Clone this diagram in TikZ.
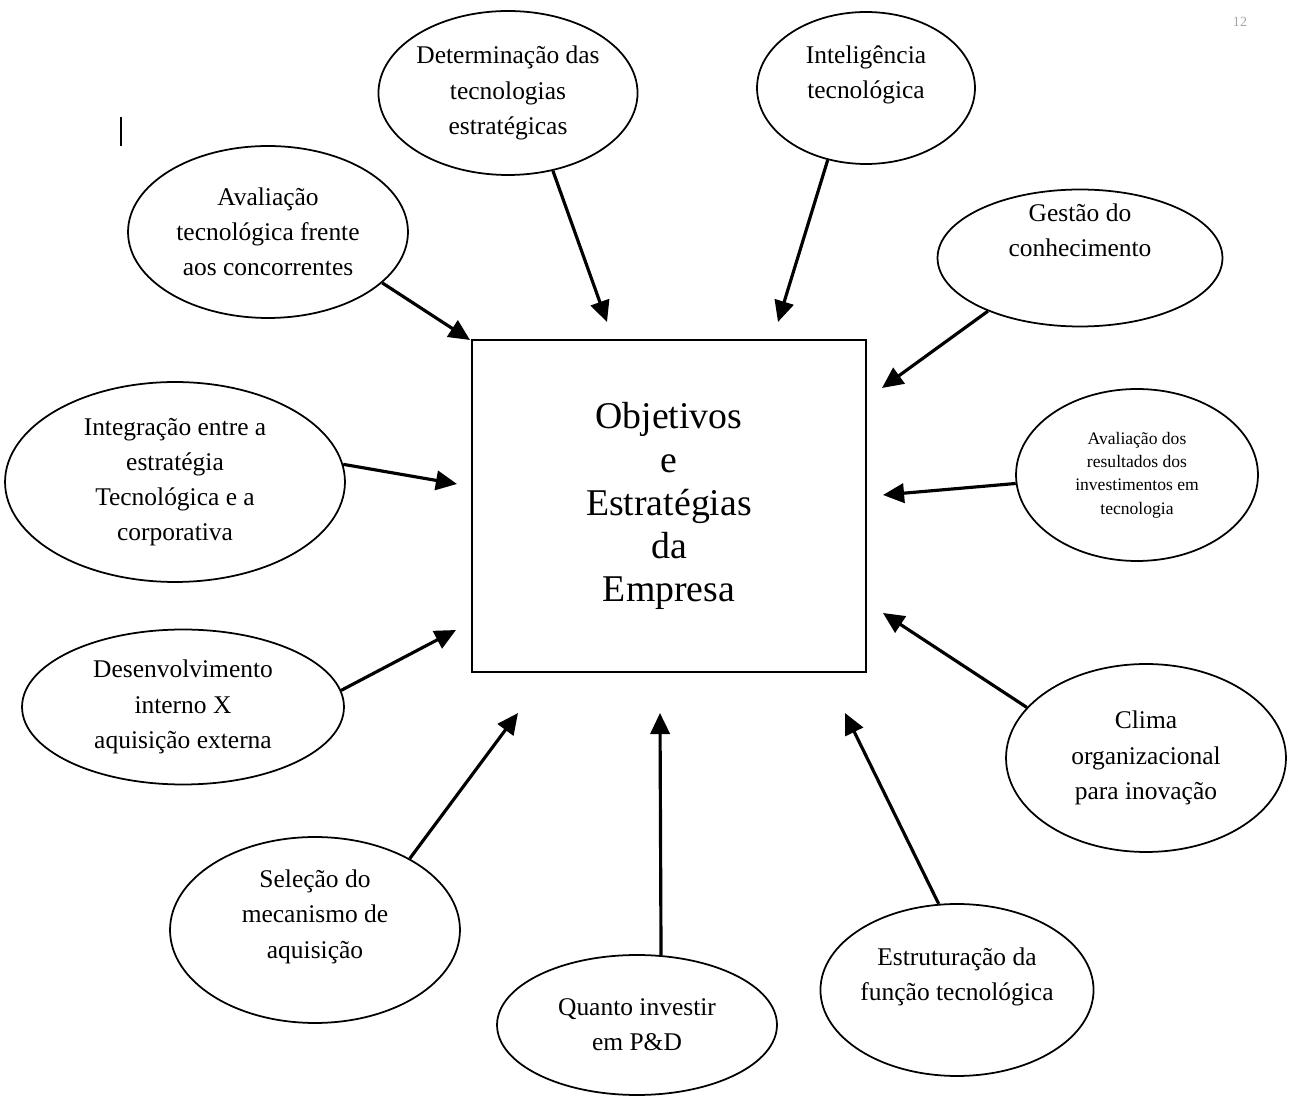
\documentclass[tikz,border=0pt]{standalone}
\usepackage{fontspec}
\setmainfont{Liberation Serif}
\usetikzlibrary{shapes.geometric,arrows.meta}

\newcommand{\subir}[2]{\raisebox{#1}[\height][\depth]{\begin{tabular}{@{}c@{}}#2\end{tabular}}}

\tikzset{
  tema/.style={draw, ellipse, line width=1pt, inner sep=0pt, align=center,
    font=\fontsize{14.5}{20}\selectfont},
  seta/.style={-{Triangle[length=12pt,width=11pt]}, line width=1.8pt},
}

\begin{document}
\begin{tikzpicture}[x=0.02cm,y=-0.02cm]
\useasboundingbox (0,0) rectangle (1289,1097);

% caixa central
\node[draw, line width=1pt, minimum width=7.88cm, minimum height=6.64cm, align=center,
  font=\fontsize{21.5}{24.5}\selectfont] (obj) at (669,506)
  {Objetivos\\e\\Estratégias\\da\\Empresa};

% elipses
\node[tema, minimum width=5.14cm, minimum height=3.28cm] (det) at (508,93)
  {Determinação das\\tecnologias\\estratégicas};
\node[tema, minimum width=4.36cm, minimum height=3.04cm] (intel) at (866,88)
  {\subir{8pt}{Inteligência\\tecnológica}};
\node[tema, minimum width=5.7cm, minimum height=2.74cm] (gestao) at (1080,258)
  {\subir{15pt}{Gestão do\\conhecimento}};
\node[tema, minimum width=4.84cm, minimum height=3.44cm,
  font=\fontsize{10}{13.3}\selectfont] (avres) at (1137,475)
  {Avaliação dos\\resultados dos\\investimentos em\\tecnologia};
\node[tema, minimum width=5.6cm, minimum height=3.76cm] (clima) at (1146,758)
  {Clima\\organizacional\\para inovação};
\node[tema, minimum width=5.2cm, minimum height=3.44cm] (estrut) at (957,990)
  {\subir{8pt}{Estruturação da\\função tecnológica}};
\node[tema, minimum width=5.6cm, minimum height=2.8cm] (quanto) at (637,1025)
  {Quanto investir\\em P\&D};
\node[tema, minimum width=5.8cm, minimum height=3.72cm] (selecao) at (315,930)
  {\subir{8pt}{Seleção do\\mecanismo de\\aquisição}};
\node[tema, minimum width=6.44cm, minimum height=3.1cm] (desenv) at (183,707)
  {Desenvolvimento\\interno X\\aquisição externa};
\node[tema, minimum width=6.8cm, minimum height=4cm] (integr) at (175,482)
  {Integração entre a\\estratégia\\Tecnológica e a\\corporativa};
\node[tema, minimum width=5.6cm, minimum height=3.44cm] (avtec) at (268,232)
  {Avaliação\\tecnológica frente\\aos concorrentes};

% pontas das setas junto da caixa
\coordinate (p-avtec) at (470,340);
\coordinate (p-det) at (607,322);
\coordinate (p-intel) at (778,322);
\coordinate (p-gestao) at (882,388);
\coordinate (p-avres) at (883,495);
\coordinate (p-clima) at (883,613);
\coordinate (p-estrut) at (845,713);
\coordinate (p-quanto) at (660,713);
\coordinate (p-selecao) at (518,713);
\coordinate (p-desenv) at (456,630);
\coordinate (p-integr) at (457,484);

\draw[seta] (avtec.-24) -- (p-avtec);
\draw[seta] (det.-60) -- (p-det);
\draw[seta] (intel.242) -- (p-intel);
\draw[seta] (gestao.210) -- (p-gestao);
\draw[seta] (avres.184) -- (p-avres);
\draw[seta] (clima.157) -- (p-clima);
\draw[seta] (estrut.102) -- (p-estrut);
\draw[seta] (quanto.71) -- (p-quanto);
\draw[seta] (selecao.37) -- (p-selecao);
\draw[seta] (desenv.6) -- (p-desenv);
\draw[seta] (integr.6) -- (p-integr);

% restos da pagina
\node[text=black!35, font=\fontsize{8}{8}\selectfont] (pag) at (1240,22) {12};
\draw[line width=1.3pt] (121,117) -- (121,146);
\end{tikzpicture}
\end{document}
